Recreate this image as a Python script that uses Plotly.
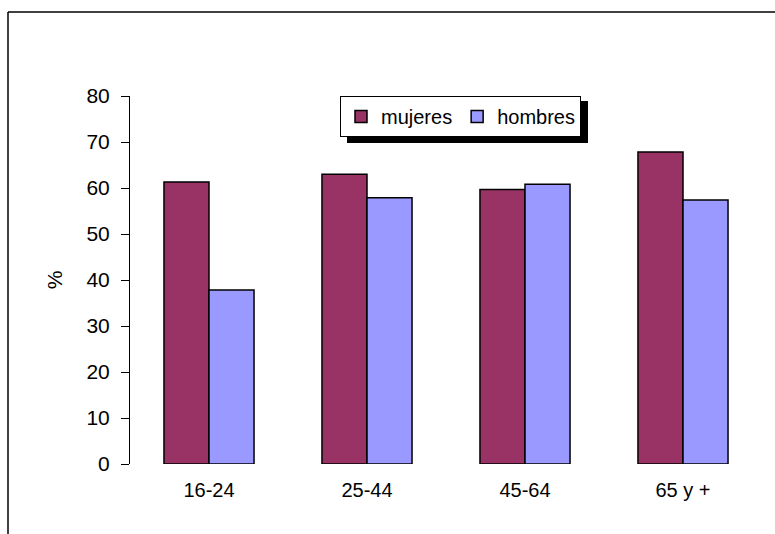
import plotly.graph_objects as go

# Age groups and share (%) by sex
grupos = ["16-24", "25-44", "45-64", "65 y +"]
mujeres = [61.3, 63.0, 59.7, 67.8]
hombres = [37.8, 57.9, 60.8, 57.4]

W, H = 775, 534
L, R, T, B = 130, 13, 96, 70
pw, ph = W - L - R, H - T - B


def px(x):
    return (x - L) / pw


def py(y):
    return 1 - (y - T) / ph


fig = go.Figure()
fig.add_trace(go.Bar(x=grupos, y=mujeres, name="mujeres",
                     marker=dict(color="#993366", line=dict(color="black", width=1.5))))
fig.add_trace(go.Bar(x=grupos, y=hombres, name="hombres",
                     marker=dict(color="#9999FF", line=dict(color="black", width=1.5))))

shapes = [
    # outer chart frame (left and top edges visible)
    dict(type="line", xref="paper", yref="paper", x0=px(8), x1=px(8), y0=py(560), y1=py(12),
         line=dict(color="black", width=1.5)),
    dict(type="line", xref="paper", yref="paper", x0=px(8), x1=px(800), y0=py(12), y1=py(12),
         line=dict(color="black", width=1.5)),
    # legend drop shadow
    dict(type="rect", xref="paper", yref="paper", x0=px(347), x1=px(588), y0=py(143), y1=py(101),
         fillcolor="black", line=dict(width=0), layer="below"),
]

fig.update_layout(
    width=W, height=H,
    margin=dict(l=L, r=R, t=T, b=B),
    paper_bgcolor="white", plot_bgcolor="white",
    font=dict(family="Liberation Sans, Arial, sans-serif", color="black", size=20),
    barmode="group", bargap=0.43, bargroupgap=0,
    showlegend=True,
    legend=dict(orientation="h", x=px(340), y=py(96), xanchor="left", yanchor="top",
                bgcolor="white", bordercolor="black", borderwidth=1,
                font=dict(size=20), itemwidth=30, tracegroupgap=0),
    shapes=shapes,
    xaxis=dict(showline=False, ticks="", tickfont=dict(size=20), showgrid=False, zeroline=False,
               ticklabelstandoff=12),
    yaxis=dict(range=[0, 80], dtick=10, showline=True, linecolor="black", linewidth=1,
               ticks="outside", ticklen=8, tickcolor="black", tickfont=dict(size=21),
               ticklabelstandoff=7,
               showgrid=False, zeroline=False,
               title=dict(text="%", font=dict(size=21), standoff=18)),
)

fig.write_html("out.html")
